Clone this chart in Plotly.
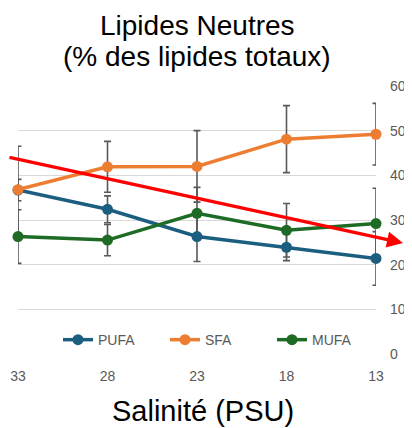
import plotly.graph_objects as go

salinity = [33, 28, 23, 18, 13]
x_ticks = [33, 28, 23, 18, 13]
y_ticks = [0, 10, 20, 30, 40, 50, 60]

pufa = [36.7, 32.4, 26.3, 23.9, 21.4]
pufa_err = [2.4, 3.0, 5.6, 3.0, 6.0]
sfa = [36.8, 41.9, 42.0, 48.1, 49.2]
sfa_err = [9.7, 5.7, 8.0, 7.5, 6.9]
mufa = [26.3, 25.5, 31.5, 27.7, 29.2]
mufa_err = [6.0, 3.5, 5.8, 6.0, 7.9]

series = [
    ("PUFA", pufa, pufa_err, "#1B5E80"),
    ("SFA", sfa, sfa_err, "#ED7D31"),
    ("MUFA", mufa, mufa_err, "#1E6B25"),
]

FONT = "Liberation Sans, Arial, sans-serif"

fig = go.Figure()

# error bars (clipped to the plot area)
for name, vals, err, col in series:
    fig.add_trace(go.Scatter(
        x=salinity, y=vals, mode="markers",
        marker=dict(size=1, opacity=0),
        error_y=dict(type="data", array=err, visible=True,
                     color="#595959", thickness=1.6, width=3.5),
        cliponaxis=True, showlegend=False, hoverinfo="skip",
    ))

for name, vals, err, col in series:
    fig.add_trace(go.Scatter(
        x=salinity, y=vals, mode="lines+markers", name=name,
        line=dict(color=col, width=3.5),
        marker=dict(color=col, size=11),
        cliponaxis=False,
    ))

# red trend arrow
fig.add_annotation(
    x=1.0754, y=0.414, xref="paper", yref="paper",
    ax=-395, ay=-86,
    showarrow=True, arrowhead=2, arrowsize=1, arrowwidth=3.2,
    arrowcolor="#FF0000", text="",
)

# title (two lines)
fig.add_annotation(
    x=0.5, y=1.2905, xref="paper", yref="paper",
    xanchor="center", yanchor="top", showarrow=False,
    text="Lipides Neutres",
    font=dict(family=FONT, size=28, color="#000000"),
)
fig.add_annotation(
    x=0.5, y=1.177, xref="paper", yref="paper",
    xanchor="center", yanchor="top", showarrow=False,
    text="(% des lipides totaux)",
    font=dict(family=FONT, size=28, color="#000000"),
)

# x-axis title
fig.add_annotation(
    x=0.518, y=-0.145, xref="paper", yref="paper",
    xanchor="center", yanchor="top", showarrow=False,
    text="Salinité (PSU)",
    font=dict(family=FONT, size=29, color="#000000"),
)

fig.update_layout(
    width=404, height=420,
    margin=dict(l=10, r=36, t=78, b=74),
    paper_bgcolor="white", plot_bgcolor="white",
    showlegend=True,
    legend=dict(
        orientation="h", x=0.56, xanchor="center", xref="paper",
        y=0.052, yanchor="middle", yref="paper",
        bgcolor="rgba(0,0,0,0)",
        font=dict(family=FONT, size=14, color="#595959"),
        entrywidth=62,
    ),
    xaxis=dict(
        range=[33, 13], tickvals=x_ticks, ticktext=[str(v) for v in x_ticks],
        showgrid=False, zeroline=False, showline=False, automargin=False,
        ticks="", ticklabelstandoff=12,
        tickfont=dict(family=FONT, size=14, color="#595959"),
    ),
    yaxis=dict(
        range=[0, 60], tickvals=y_ticks, side="right", automargin=False,
        showgrid=True, gridcolor="#D9D9D9", gridwidth=1,
        zeroline=False, showline=False, ticks="", ticklabelstandoff=13,
        tickfont=dict(family=FONT, size=14, color="#595959"),
    ),
)

fig.write_html("out.html")
